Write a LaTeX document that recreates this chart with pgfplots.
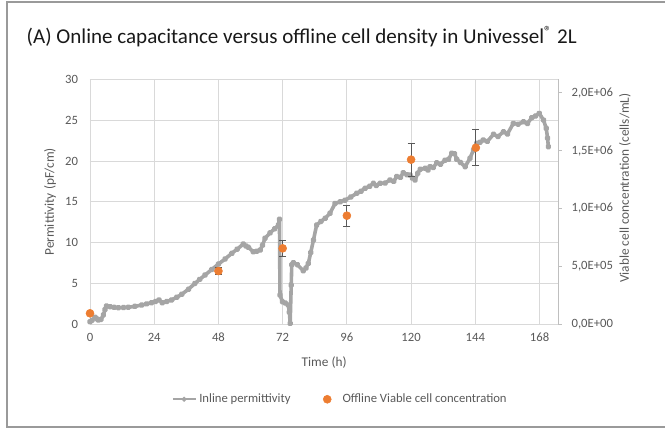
\documentclass[border=0pt]{standalone}
\usepackage{fontspec}
\setmainfont{Carlito}
\usepackage{pgfplots}
\pgfplotsset{compat=1.18}
\definecolor{gridc}{HTML}{D9D9D9}
\definecolor{txt}{HTML}{595959}
\definecolor{linec}{HTML}{A5A5A5}
\definecolor{orng}{HTML}{ED7D31}
\definecolor{axc}{HTML}{BFBFBF}
\definecolor{frm}{HTML}{9A9A9A}
\pgfplotsset{dotlegend/.style={legend image code/.code={%
  \path[draw=none, fill=none] (-3pt,0pt) -- (9.5pt,0pt);
  \draw[##1] plot coordinates {(0pt,0pt)};}}}

\begin{document}
\begin{tikzpicture}
\useasboundingbox (0,0) rectangle (498.75pt,-323.25pt);
% outer frame (right edge falls outside the picture)
\draw[frm, line width=1.1pt] (510pt,-1.5pt) -- (5.25pt,-1.5pt) -- (5.25pt,-320.25pt) -- (510pt,-320.25pt);
\node[anchor=west, font=\fontsize{15.8}{18}\selectfont, text=black!90] at (16.5pt,-27.75pt)
  {(A) Online capacitance versus offline cell density in Univessel\textsuperscript{\textregistered} 2L};

\begin{axis}[
  at={(67.5pt,-243.225pt)}, anchor=south west,
  scale only axis, width=351.2pt, height=183.75pt,
  xmin=0, xmax=175, ymin=0, ymax=30,
  xtick={0,24,...,168}, ytick={0,5,...,30},
  grid=major, grid style={gridc, line width=0.6pt},
  axis line style={draw=none}, major tick length=0pt,
  tick label style={font=\fontsize{9.5}{11}\selectfont, text=txt},
  yticklabel style={xshift=-5.5pt},
  xticklabel style={yshift=-3pt},
  /pgf/number format/assume math mode=true,
  xlabel={Time (h)}, ylabel={Permittivity (pF/cm)},
  label style={font=\fontsize{10}{12}\selectfont, text=txt},
  xlabel style={at={(rel axis cs:0.5,-0.155)}, anchor=center},
  ylabel style={at={(rel axis cs:-0.0854,0.5)}, anchor=center},
  clip=false,
]
\addplot[linec, line width=2.7pt, line join=round, mark=*, mark size=1pt] coordinates {
(0,0.3)(0.8,0.5)(1.9,0.86)(2.5,0.7)(3.1,0.53)(4.1,0.6)(5,1.14)(5.6,1.8)(6.2,2.24)
(7.5,2.16)(9,2.08)(10.6,2.03)(12.5,2.05)(14.3,2.08)(16.8,2.2)(19.3,2.36)(21.2,2.5)
(23,2.65)(24.5,2.8)(25.8,2.98)(27,2.65)(28.7,2.8)(30.5,2.98)(32.4,3.3)(34.3,3.67)
(36.8,4.3)(39.2,5.0)(41,5.5)(43,6.04)(45.5,6.7)(48,7.38)(50.5,8.0)(53,8.69)(55,9.2)
(57.3,9.83)(58.3,9.6)(59.2,9.43)(61,8.89)(62.3,8.95)(63.6,9.1)(64.5,9.7)(65.4,10.53)
(67.3,11.2)(69,11.7)(70.4,12.16)(70.8,12.86)(71,3.59)(71.9,2.77)(73,2.6)(74.1,2.36)
(74.5,1.5)(74.8,0.12)(75.2,4.8)(75.4,7.3)(76,7.55)(77.5,7.3)(79.7,6.57)(80.7,6.9)
(81.6,7.47)(82.5,8.8)(83.5,10.3)(84.7,12.16)(86.3,12.6)(87.9,12.98)(89.7,13.6)
(91.6,14.8)(93.5,15.0)(95.3,15.2)(97.5,15.6)(99.7,16.04)(101.3,16.3)(102.8,16.65)
(104.5,16.9)(105.9,17.26)(107,17.0)(108.4,17.26)(110.3,17.3)(112.1,17.67)(113.5,17.5)
(114.6,18.1)(116,18.0)(117.1,18.56)(118.5,18.3)(119.6,18.28)(120.5,17.9)(121.5,17.67)
(122.5,18.5)(123.4,18.98)(125.3,19.1)(126.3,18.9)(127.1,19.3)(128.3,19.2)(129.6,19.79)
(131,19.6)(132.7,20.1)(134,20.2)(135.2,20.94)(136.2,20.9)(137.1,20.2)(138.5,19.8)
(140.2,19.3)(142,20.33)(143.3,21.34)(144.5,22.16)(145.8,22.3)(147,22.57)(148.5,22.4)
(150.8,23.26)(152.5,23.0)(154.5,23.58)(156,23.3)(158.2,24.6)(160,24.5)(162,24.8)
(163.5,24.6)(165.1,25.3)(166.5,25.5)(167.9,25.83)(169.5,25.0)(170.5,24.0)(171,22.8)(171.3,21.75)};
\end{axis}

\begin{axis}[
  at={(67.5pt,-243.225pt)}, anchor=south west,
  scale only axis, width=351.2pt, height=183.75pt,
  xmin=0, xmax=175, ymin=0, ymax=2116000,
  axis x line=none, axis y line*=right,
  ytick={0,500000,1000000,1500000,2000000},
  yticklabels={{0,0E+00},{5,0E+05},{1,0E+06},{1,5E+06},{2,0E+06}},
  scaled y ticks=false,
  tick align=outside, major tick length=2.5pt,
  y axis line style={draw=axc, line width=0.6pt}, ytick style={draw=axc, line width=0.6pt},
  tick label style={font=\fontsize{9.5}{11}\selectfont, text=txt},
  yticklabel style={xshift=4pt},
  ylabel={Viable cell concentration (cells/mL)},
  label style={font=\fontsize{10}{12}\selectfont, text=txt},
  ylabel style={at={(rel axis cs:1.1424,0.556)}, anchor=center},
  legend style={at={(0.535,-0.306)}, anchor=center, draw=none, fill=none,
    font=\fontsize{9.5}{11}\selectfont, text=txt, legend columns=2,
    /tikz/every even column/.append style={column sep=22.5pt}},
  legend cell align=left,
  clip=false,
]
\addlegendimage{linec, line width=1.6pt, mark=*, mark size=0.9pt}
\addlegendentry{Inline permittivity}
% error bars first, so that the dots cover them
\addplot[draw=none, mark=none, forget plot,
  error bars/.cd, y dir=both, y explicit,
  error bar style={draw=txt, line width=0.6pt},
  error mark options={rotate=90, mark size=2.6pt, draw=txt, line width=0.6pt}]
  coordinates {
  (48,460000) +- (0,32000)
  (72,656000) +- (0,67000)
  (96,938000) +- (0,92000)
  (120,1422000) +- (0,141000)
  (144.2,1525000) +- (0,154000)};
\addplot[only marks, mark=*, mark size=3pt, color=orng, dotlegend]
  coordinates {
  (0,95000)(48,460000)(72,656000)(96,938000)(120,1422000)(144.2,1525000)};
\addlegendentry{Offline Viable cell concentration}
\end{axis}
\end{tikzpicture}
\end{document}
